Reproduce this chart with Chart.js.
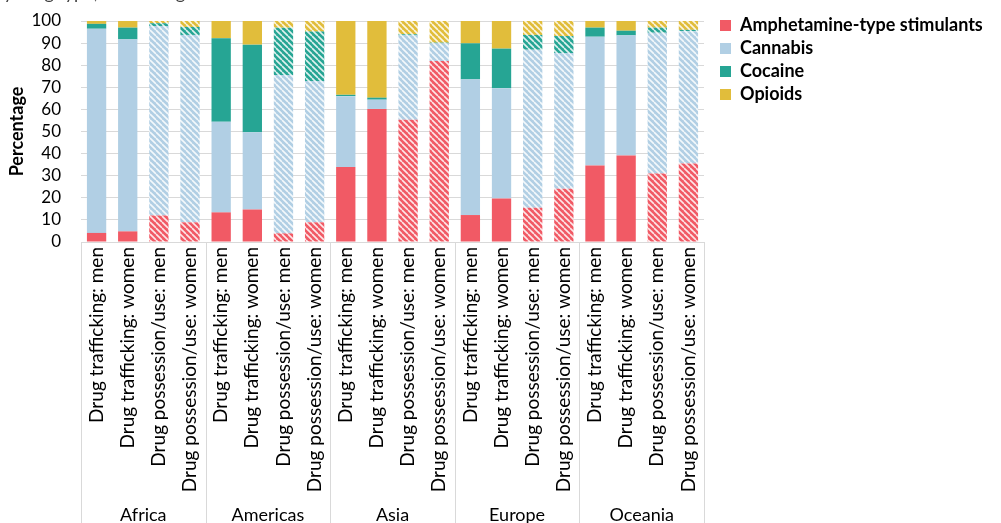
<!DOCTYPE html>
<html>
<head>
<meta charset="utf-8">
<script src="https://cdn.jsdelivr.net/npm/chart.js@4.4.1/dist/chart.umd.min.js"></script>
<style>
  html, body { margin: 0; padding: 0; background: #fff; }
  #wrap { width: 1001px; height: 523px; overflow: hidden; }
</style>
</head>
<body>
<div id="wrap"><canvas id="chart" width="1001" height="523"></canvas></div>
<script>
// data (percent of each bar)
const regions = ['Africa', 'Americas', 'Asia', 'Europe', 'Oceania'];
const subLabels = ['Drug trafficking: men', 'Drug trafficking: women', 'Drug possession/use: men', 'Drug possession/use: women'];

const ats      = [4.1, 4.8, 12.0, 8.9,  13.4, 14.7, 3.9, 8.9,  33.9, 60.2, 55.3, 81.9,  12.2, 19.7, 15.5, 24.1,  34.6, 39.1, 31.0, 35.5];
const cannabis = [92.4, 86.9, 85.7, 84.8,  41.0, 35.0, 71.7, 64.0,  32.1, 4.2, 38.2, 8.0,  61.4, 49.9, 71.5, 61.4,  58.3, 54.4, 63.7, 59.9];
const cocaine  = [2.2, 5.3, 1.3, 3.6,  37.8, 39.6, 21.4, 22.3,  0.6, 0.9, 0.5, 0.3,  16.3, 17.9, 6.7, 7.7,  4.1, 2.1, 2.3, 0.6];
const opioids  = [1.3, 3.0, 1.0, 2.7,  7.8, 10.7, 3.0, 4.8,  33.4, 34.7, 6.0, 9.8,  10.1, 12.5, 6.3, 6.8,  3.0, 4.4, 3.0, 4.0];

const yTicks = [0, 10, 20, 30, 40, 50, 60, 70, 80, 90, 100];

const FONT = 'Lato';
const LEGEND_SIZE = 18;
const colors = ['#f15a65', '#b1cfe4', '#26a594', '#e1bd3b'];

// build the 20 category labels (4 per region)
const labels = [];
regions.forEach(() => subLabels.forEach(s => labels.push(s)));

// striped fill for the possession/use bars
function makeHatch(color) {
  const size = 6;
  const c = document.createElement('canvas');
  c.width = size; c.height = size;
  const g = c.getContext('2d');
  g.fillStyle = color;
  g.fillRect(0, 0, size, size);
  g.strokeStyle = 'rgba(255,255,255,0.85)';
  g.lineWidth = 1.6;
  g.beginPath();
  for (let k = -size; k <= size; k += size) {
    g.moveTo(k, 0);
    g.lineTo(k + size, size);
  }
  g.stroke();
  return g.createPattern(c, 'repeat');
}

function fillFor(color) {
  const hatch = makeHatch(color);
  return ctx => (ctx.dataIndex % 4 >= 2 ? hatch : color);
}

// legend marker: square sitting on the right half of a wider image
function legendMarker(color) {
  const c = document.createElement('canvas');
  c.width = 22; c.height = 11;
  const g = c.getContext('2d');
  g.fillStyle = color;
  g.fillRect(11, 0, 11, 11);
  return c;
}

// separators, region names and the clipped title line
const extras = {
  id: 'extras',
  afterDraw(chart) {
    const { ctx, chartArea, scales } = chart;
    const x = scales.x;
    const h = chart.height;
    ctx.save();
    ctx.strokeStyle = '#d9d9d9';
    ctx.lineWidth = 1;
    for (let i = 0; i <= labels.length; i += 4) {
      const px = Math.round(x.getPixelForValue(i - 0.5)) + 0.5;
      ctx.beginPath();
      ctx.moveTo(px, chartArea.bottom);
      ctx.lineTo(px, h);
      ctx.stroke();
    }
    ctx.fillStyle = '#000';
    ctx.font = '18px ' + FONT;
    ctx.textAlign = 'center';
    ctx.textBaseline = 'alphabetic';
    regions.forEach((r, i) => {
      const mid = (x.getPixelForValue(i * 4 - 0.5) + x.getPixelForValue(i * 4 + 3.5)) / 2;
      ctx.fillText(r, mid, 521);
    });
    ctx.textAlign = 'left';
    ctx.fillStyle = '#404040';
    ctx.fillText('by drug type, sex and age', -6, -1);
    ctx.restore();
  }
};

function draw() {
  // room for the legend so the plot ends where the reference's does
  const m = document.createElement('canvas').getContext('2d');
  m.font = 'bold ' + LEGEND_SIZE + 'px ' + FONT;
  const textW = m.measureText('Amphetamine-type stimulants').width;
  const legendW = Math.ceil(5 + 22 + LEGEND_SIZE / 2 + textW + 5);
  const padRight = Math.max(0, 1001 - 704 - legendW);

  new Chart(document.getElementById('chart'), {
    type: 'bar',
    data: {
      labels,
      datasets: [
        { label: 'Amphetamine-type stimulants', data: ats, backgroundColor: fillFor(colors[0]) },
        { label: 'Cannabis', data: cannabis, backgroundColor: fillFor(colors[1]) },
        { label: 'Cocaine', data: cocaine, backgroundColor: fillFor(colors[2]) },
        { label: 'Opioids', data: opioids, backgroundColor: fillFor(colors[3]) }
      ]
    },
    options: {
      responsive: false,
      animation: false,
      devicePixelRatio: 1,
      layout: { padding: { top: 11, right: padRight, left: 0, bottom: 0 } },
      datasets: { bar: { barPercentage: 0.62, categoryPercentage: 1, borderWidth: 0 } },
      plugins: {
        legend: {
          position: 'right',
          align: 'start',
          maxWidth: legendW,
          labels: {
            usePointStyle: true,
            pointStyleWidth: 22,
            boxHeight: 11,
            padding: 5,
            color: '#000',
            font: { family: FONT, size: LEGEND_SIZE, weight: 'bold' },
            generateLabels(chart) {
              return chart.data.datasets.map((ds, i) => ({
                text: ds.label,
                fillStyle: colors[i],
                strokeStyle: colors[i],
                lineWidth: 0,
                pointStyle: legendMarker(colors[i]),
                datasetIndex: i
              }));
            }
          }
        },
        tooltip: { enabled: false }
      },
      scales: {
        x: {
          stacked: true,
          grid: { display: false, drawTicks: false },
          border: { display: true, color: '#d9d9d9' },
          ticks: {
            autoSkip: false,
            maxRotation: 90,
            minRotation: 90,
            padding: 5,
            color: '#000',
            font: { family: FONT, size: 19 }
          },
          afterFit(scale) {
            scale.height = 281;
            scale.paddingLeft = 0;
            scale.paddingRight = 0;
          }
        },
        y: {
          stacked: true,
          min: 0,
          max: 100,
          afterBuildTicks(scale) { scale.ticks = yTicks.map(v => ({ value: v })); },
          grid: { color: '#d9d9d9', drawTicks: false },
          border: { display: false },
          ticks: {
            autoSkip: false,
            padding: 20,
            color: '#000',
            font: { family: FONT, size: 17 }
          },
          title: {
            display: true,
            text: 'Percentage',
            color: '#000',
            padding: { top: 6, bottom: 0 },
            font: { family: FONT, size: 18, weight: 'bold' }
          },
          afterFit(scale) {
            scale.width = 81;
            scale.paddingTop = 21;
            scale.paddingBottom = 0;
          }
        }
      }
    },
    plugins: [extras]
  });
}

// wait for the local fonts so text gets measured right
Promise.all([
  document.fonts.load('17px ' + FONT),
  document.fonts.load('bold 17px ' + FONT)
]).then(draw, draw);
</script>
</body>
</html>
